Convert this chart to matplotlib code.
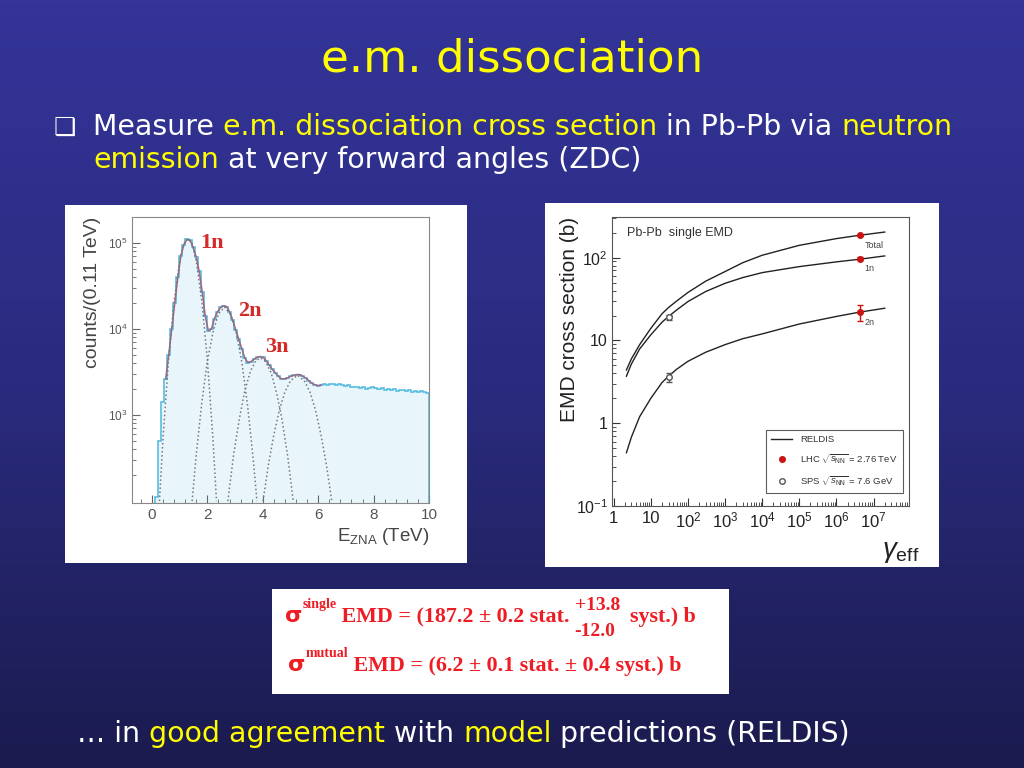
import numpy as np
import matplotlib
matplotlib.use('Agg')
import matplotlib.pyplot as plt
from matplotlib.colors import LinearSegmentedColormap
from matplotlib.patches import Rectangle
from matplotlib.lines import Line2D
from matplotlib.ticker import FixedLocator, FixedFormatter, LogLocator, NullFormatter, AutoMinorLocator

W, H = 1024, 768

# ---- left plot: ZNA energy spectrum (log10 of counts per 0.11 TeV bin) ----
bin_width = 0.11
zna_log10_counts = [
    1.9, 2.05, 2.7, 3.15, 3.42, 3.7, 4.0, 4.3, 4.6, 4.85,
    4.98, 5.04, 5.03, 4.95, 4.84, 4.67, 4.43, 4.15, 3.98, 4.0,
    4.12, 4.2, 4.25, 4.27, 4.26, 4.2, 4.1, 3.99, 3.88, 3.77,
    3.66, 3.61, 3.62, 3.65, 3.67, 3.68, 3.67, 3.63, 3.58, 3.53,
    3.49, 3.45, 3.42, 3.42, 3.43, 3.45, 3.46, 3.47, 3.47, 3.45,
    3.43, 3.40, 3.37, 3.35, 3.34,
    3.35, 3.36, 3.35, 3.36, 3.36, 3.35, 3.36, 3.35, 3.34, 3.35,
    3.33, 3.32, 3.33, 3.31, 3.32, 3.30, 3.31, 3.32, 3.31, 3.30,
    3.31, 3.29, 3.30, 3.29, 3.30, 3.28, 3.29, 3.29, 3.28, 3.29,
    3.27, 3.28, 3.27, 3.28, 3.27, 3.26,
]

# single-neutron-peak fit curves (dotted)
fit_1n_x = [0.27, 0.4, 0.6, 0.8, 1.0, 1.15, 1.3, 1.45, 1.6, 1.8, 2.0, 2.2, 2.33]
fit_1n_y = [100, 540, 4400, 21000, 62000, 98000, 112000, 98000, 62000, 21000, 4400, 540, 100]
fit_2n_x = [1.45, 1.6, 1.8, 2.0, 2.2, 2.4, 2.62, 2.85, 3.05, 3.25, 3.45, 3.65, 3.79]
fit_2n_y = [100, 350, 1400, 4200, 9100, 15000, 18000, 14500, 8900, 4000, 1300, 320, 100]
fit_3n_x = [2.74, 2.95, 3.15, 3.35, 3.55, 3.75, 3.92, 4.1, 4.3, 4.5, 4.7, 4.9, 5.1]
fit_3n_y = [100, 350, 890, 1900, 3200, 4300, 4600, 4200, 3100, 1800, 870, 330, 100]
fit_4n_x = [4.01, 4.2, 4.4, 4.6, 4.8, 5.0, 5.25, 5.5, 5.7, 5.9, 6.1, 6.3, 6.49]
fit_4n_y = [100, 260, 590, 1150, 1860, 2500, 2900, 2500, 1860, 1150, 590, 260, 100]

peak_labels = ['1n', '2n', '3n']
peak_label_x = [1.75, 3.1, 4.1]
peak_label_y = [1.0e5, 1.6e4, 6.2e3]

# ---- right plot: EMD cross section vs gamma_eff ----
gamma = [2.2, 3, 5, 10, 20, 30, 50, 100, 300, 1e3, 3e3, 1e4, 1e5, 1e6, 4e6, 2e7]
reldis_total = [4.4, 6.0, 8.9, 14, 21, 25, 30, 38, 52, 68, 87, 107, 141, 170, 186, 204]
reldis_1n = [3.7, 5.2, 7.9, 11.7, 16.6, 19.5, 23.4, 29.5, 39, 49, 57.5, 66, 78, 89, 95.5, 105]
reldis_2n = [0.44, 0.68, 1.2, 2.0, 3.1, 3.7, 4.5, 5.6, 7.2, 8.9, 10.5, 12, 15.8, 19.5, 21.9, 24.5]

gamma_lhc = 4.4e6
lhc_sigma = [187.2, 97, 22]
lhc_err = [3, 4, 5]
gamma_sps = 30
sps_sigma = [19, 3.6]
sps_err = [1.2, 0.45]
curve_names = ['Total', '1n', '2n']

plt.rcParams['mathtext.fontset'] = 'custom'
plt.rcParams['mathtext.rm'] = 'Liberation Sans'
plt.rcParams['mathtext.it'] = 'Liberation Sans:italic'
plt.rcParams['mathtext.bf'] = 'Liberation Sans:bold'

fig = plt.figure(figsize=(W / 100, H / 100), dpi=100)
renderer = fig.canvas.get_renderer()

# slide background
bg = fig.add_axes([0, 0, 1, 1])
cmap = LinearSegmentedColormap.from_list('slide', ['#343499', '#2a2b7e', '#1b1b4f'])
bg.imshow(np.linspace(0, 1, 256).reshape(-1, 1), aspect='auto', cmap=cmap,
          extent=[0, 1, 0, 1], origin='upper')
bg.set_xlim(0, 1)
bg.set_ylim(0, 1)
bg.axis('off')


def px_rect(x0, y0, x1, y1):
    bg.add_patch(Rectangle((x0 / W, 1 - y1 / H), (x1 - x0) / W, (y1 - y0) / H,
                           facecolor='white', edgecolor='none'))


px_rect(65, 205, 467, 563)
px_rect(545, 203, 939, 567)
px_rect(272, 589, 729, 694)


def text_width(s, **kw):
    t = fig.text(0, 0, s + '|', **kw)
    w = t.get_window_extent(renderer).width
    t.set_text('|')
    w -= t.get_window_extent(renderer).width
    t.remove()
    return w


def runs(x, y, parts, **common):
    # parts drawn one after another on a baseline, x/y in pixels from top-left
    for s, kw in parts:
        opts = dict(common)
        opts.update(kw)
        dy = opts.pop('dy', 0)
        fig.text(x / W, 1 - (y - dy) / H, s, va='baseline', **opts)
        x += text_width(s, **opts)
    return x


# title and bullet text
fig.text(0.5, 1 - 72 / H, 'e.m. dissociation', ha='center', va='baseline',
         color='#ffff00', fontsize=32.5, family='DejaVu Sans')

YEL, WHT = '#ffff00', '#ffffff'
fig.text(54 / W, 1 - 135 / H, '\u2751', color=WHT, fontsize=18, va='baseline',
         family='DejaVu Sans')
runs(93, 135, [('Measure ', dict(color=WHT)),
               ('e.m. dissociation cross section', dict(color=YEL)),
               (' in Pb-Pb via ', dict(color=WHT)),
               ('neutron', dict(color=YEL))],
     fontsize=20.4, family='DejaVu Sans')
runs(93, 168, [('emission', dict(color=YEL)),
               (' at very forward angles (ZDC)', dict(color=WHT))],
     fontsize=20.4, family='DejaVu Sans')
runs(77, 742, [('\u2026 in ', dict(color=WHT)),
               ('good agreement', dict(color=YEL)),
               (' with ', dict(color=WHT)),
               ('model', dict(color=YEL)),
               (' predictions (RELDIS)', dict(color=WHT))],
     fontsize=20.4, family='DejaVu Sans')

# formula box
RED = '#ee1c24'
serif = dict(family='Liberation Serif', weight='bold', color=RED)
sig = dict(family='DejaVu Sans', weight='bold', color=RED, fontsize=16)
x = runs(285, 622, [('\u03c3', sig),
                    ('single', dict(serif, fontsize=10, dy=14)),
                    (' EMD = (187.2 \u00b1 0.2 stat. ', dict(serif, fontsize=15.8))])
fig.text((x - 1) / W, 1 - 610 / H, '+13.8', va='baseline', fontsize=14, **serif)
fig.text((x - 1) / W, 1 - 636 / H, '-12.0', va='baseline', fontsize=14, **serif)
x += text_width('+13.8', fontsize=14, **serif) - 2
runs(x, 622, [('  syst.) b', dict(serif, fontsize=15.8))])
runs(288, 671, [('\u03c3', sig),
                ('mutual', dict(serif, fontsize=10, dy=14)),
                (' EMD = (6.2 \u00b1 0.1 stat. \u00b1 0.4 syst.) b', dict(serif, fontsize=15.8))])

# ---- left panel ----
ax1 = fig.add_axes([132 / W, 1 - 503 / H, 297 / W, 286 / H])
counts = 10 ** np.array(zna_log10_counts)
edges = np.arange(len(counts) + 1) * bin_width
centers = edges[:-1] + bin_width / 2
ax1.stairs(counts, edges, fill=True, color='#e8f5fb', baseline=1)
ax1.stairs(counts, edges, color='#58bde0', lw=1.2, baseline=1)
sel = (centers > 0.45) & (centers < 6.2)
ax1.plot(centers[sel], counts[sel], color='#a4667f', lw=1.1)
for fx, fy in [(fit_1n_x, fit_1n_y), (fit_2n_x, fit_2n_y),
               (fit_3n_x, fit_3n_y), (fit_4n_x, fit_4n_y)]:
    ax1.plot(fx, fy, color='#777777', ls=':', lw=1.1)
for lab, lx, ly in zip(peak_labels, peak_label_x, peak_label_y):
    ax1.text(lx, ly, lab, color='#d42a2a', fontsize=16, family='Liberation Serif',
             weight='bold', va='center')
ax1.set_yscale('log')
ax1.set_xlim(-0.72, 10)
ax1.set_ylim(95, 2e5)
ax1.xaxis.set_major_locator(FixedLocator([0, 2, 4, 6, 8, 10]))
ax1.xaxis.set_minor_locator(AutoMinorLocator(5))
ax1.yaxis.set_major_locator(FixedLocator([1e3, 1e4, 1e5]))
ax1.yaxis.set_major_formatter(FixedFormatter([r'$10^{3}$', r'$10^{4}$', r'$10^{5}$']))
ax1.yaxis.set_minor_locator(LogLocator(base=10, subs=np.arange(2, 10), numticks=20))
ax1.yaxis.set_minor_formatter(NullFormatter())
ax1.tick_params(which='both', direction='in', color='#666666', labelcolor='#555555')
ax1.tick_params(which='major', length=6)
ax1.tick_params(which='minor', length=3)
ax1.tick_params(axis='x', labelsize=11)
ax1.tick_params(axis='y', labelsize=8.5)
for sp in ax1.spines.values():
    sp.set_color('#888888')
for lab in ax1.get_xticklabels() + ax1.get_yticklabels():
    lab.set_family('Liberation Sans')
ax1.set_ylabel('counts/(0.11 TeV)', fontsize=14, color='#444444',
               family='Liberation Sans', loc='top')
ax1.yaxis.set_label_coords(-0.105, 1.0)
ax1.set_xlabel(r'E$_{\rm ZNA}$ (TeV)', fontsize=13.5, color='#444444',
               family='Liberation Sans', loc='right', labelpad=3)

# ---- right panel ----
ax2 = fig.add_axes([612 / W, 1 - 506 / H, 297 / W, 289 / H])
for curve in [reldis_total, reldis_1n, reldis_2n]:
    ax2.plot(gamma, curve, color='#222222', lw=1.0)
ax2.errorbar([gamma_lhc] * 3, lhc_sigma, yerr=lhc_err, fmt='o', ms=4,
             color='#cc1111', ecolor='#cc1111', elinewidth=1, capsize=2, zorder=4)
ax2.errorbar([gamma_sps] * 2, sps_sigma, yerr=sps_err, fmt='o', ms=4,
             mfc='white', mec='#555555', ecolor='#555555', elinewidth=1, capsize=2, zorder=4)
for name, val in zip(curve_names, lhc_sigma):
    ax2.annotate(name, (gamma_lhc, val), xytext=(3, -9), textcoords='offset points',
                 fontsize=6.5, color='#444444', family='Liberation Sans')
ax2.set_xscale('log')
ax2.set_yscale('log')
ax2.set_xlim(0.9, 9e7)
ax2.set_ylim(0.1, 310)
ax2.xaxis.set_major_locator(FixedLocator([1, 10, 1e2, 1e3, 1e4, 1e5, 1e6, 1e7]))
ax2.xaxis.set_major_formatter(FixedFormatter(['1', '10', r'$10^{2}$', r'$10^{3}$',
                                              r'$10^{4}$', r'$10^{5}$', r'$10^{6}$', r'$10^{7}$']))
ax2.xaxis.set_minor_locator(LogLocator(base=10, subs=np.arange(2, 10), numticks=100))
ax2.xaxis.set_minor_formatter(NullFormatter())
ax2.yaxis.set_major_locator(FixedLocator([0.1, 1, 10, 100]))
ax2.yaxis.set_major_formatter(FixedFormatter([r'$10^{-1}$', '1', '10', r'$10^{2}$']))
ax2.yaxis.set_minor_locator(LogLocator(base=10, subs=np.arange(2, 10), numticks=100))
ax2.yaxis.set_minor_formatter(NullFormatter())
ax2.tick_params(which='both', direction='in', color='#333333', labelcolor='#222222',
                labelsize=12)
ax2.tick_params(axis='y', labelsize=11.5, pad=3)
ax2.tick_params(which='major', length=6)
ax2.tick_params(which='minor', length=3)
for lab in ax2.get_xticklabels() + ax2.get_yticklabels():
    lab.set_family('Liberation Sans')
for sp in ax2.spines.values():
    sp.set_color('#555555')
ax2.set_ylabel('EMD cross section (b)', fontsize=15, color='#222222',
               family='Liberation Sans', loc='top')
ax2.yaxis.set_label_coords(-0.112, 1.0)
ax2.text(0.91, -0.155, r'$\gamma_{\rm eff}$', transform=ax2.transAxes, fontsize=20,
         color='#222222', va='center')
ax2.text(0.05, 0.945, 'Pb-Pb  single EMD', transform=ax2.transAxes, fontsize=9,
         color='#333333', family='Liberation Sans', va='center')
handles = [Line2D([], [], color='#222222', lw=1),
           Line2D([], [], ls='none', marker='o', ms=4, color='#cc1111'),
           Line2D([], [], ls='none', marker='o', ms=4, mfc='white', mec='#555555')]
labels = ['RELDIS', r'LHC $\sqrt{s_{\rm NN}}$ = 2.76 TeV', r'SPS $\sqrt{s_{\rm NN}}$ = 7.6 GeV']
leg = ax2.legend(handles, labels, loc='lower right', bbox_to_anchor=(0.995, 0.028),
                 frameon=True, fancybox=False, edgecolor='#333333',
                 handlelength=2.2, borderpad=0.6, labelspacing=0.85,
                 prop={'family': 'Liberation Sans', 'size': 6.8})
leg.get_frame().set_linewidth(0.8)
for t in leg.get_texts():
    t.set_color('#333333')

fig.savefig('out.png', dpi=100)
